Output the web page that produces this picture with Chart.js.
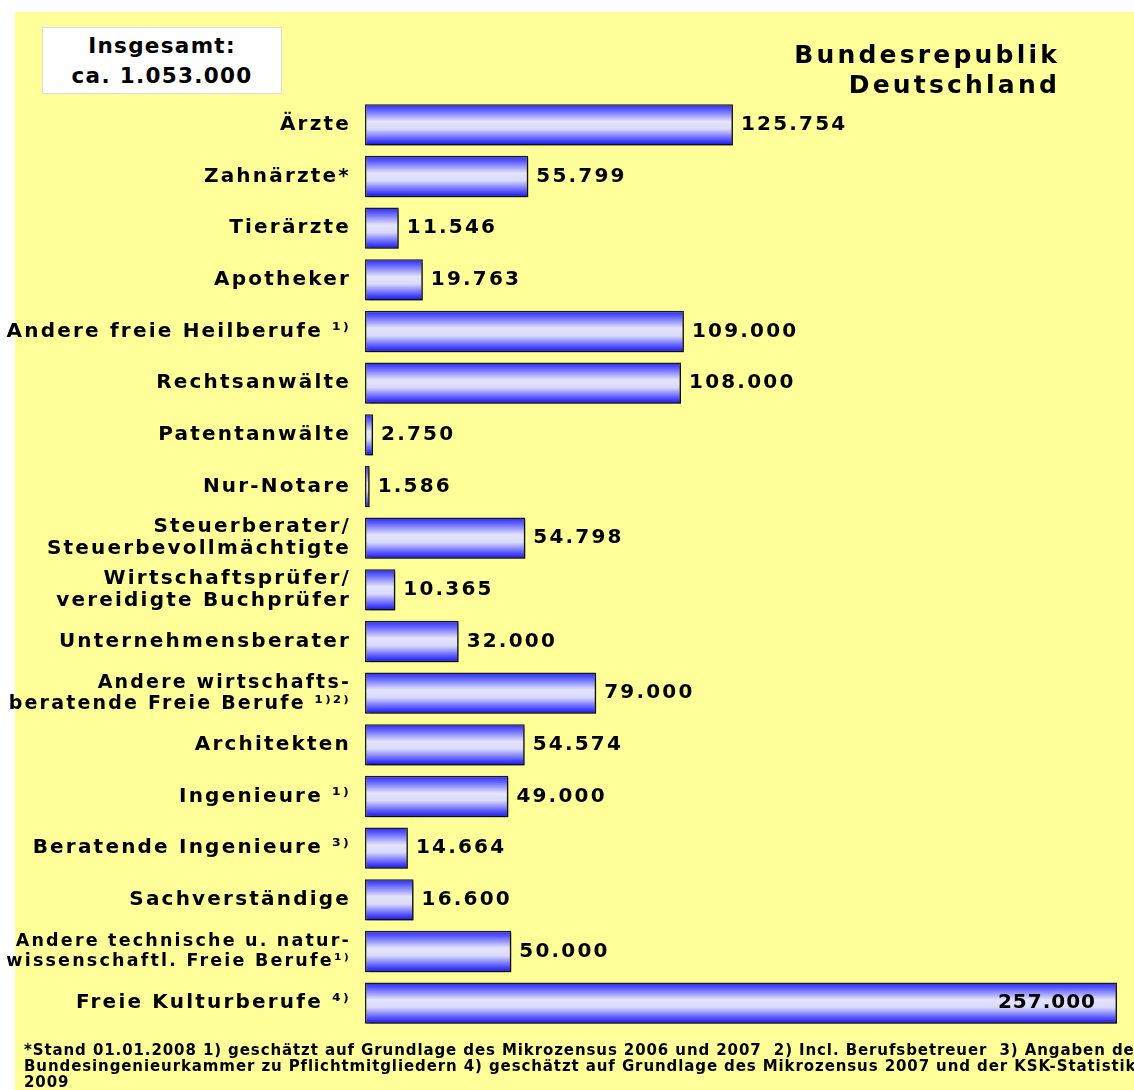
<!DOCTYPE html>
<html lang="de">
<head>
<meta charset="utf-8">
<title>Freie Berufe</title>
<script src="https://cdn.jsdelivr.net/npm/chart.js@4.4.1/dist/chart.umd.min.js"></script>
<style>
  html, body { margin: 0; padding: 0; background: #fff; }
  body { width: 1134px; height: 1090px; position: relative; overflow: hidden; font-family: "DejaVu Sans", sans-serif; }
  #panel { position: absolute; left: 15px; top: 12px; right: 0; bottom: 0; background: #ffff99; }
  #chart { position: absolute; left: 0; top: 0; }
  #total {
    position: absolute; left: 42px; top: 27px; width: 240px; height: 67px;
    background: #fff; border: 1px solid #dcdcdc;
    font-weight: bold; font-size: 21.5px; letter-spacing: 1.3px; text-align: center;
    line-height: 30px; padding-top: 3px; box-sizing: border-box;
  }
  #land {
    position: absolute; right: 74px; top: 40px; text-align: right;
    font-weight: bold; font-size: 25px; letter-spacing: 3.2px; line-height: 30px;
  }
  #notes {
    position: absolute; left: 24px; top: 1042px; right: 0; white-space: nowrap; overflow: hidden;
    font-weight: bold; font-size: 15px; line-height: 16px; letter-spacing: 0.9px;
  }
</style>
</head>
<body>
<div id="panel"></div>
<canvas id="chart" width="1134" height="1090"></canvas>
<div id="total">Insgesamt:<br>ca. 1.053.000</div>
<div id="land">Bundesrepublik<br>Deutschland</div>
<div id="notes">*Stand 01.01.2008 1) geschätzt auf Grundlage des Mikrozensus 2006 und 2007&nbsp; 2) Incl. Berufsbetreuer&nbsp; 3) Angaben der<br>Bundesingenieurkammer zu Pflichtmitgliedern 4) geschätzt auf Grundlage des Mikrozensus 2007 und der KSK-Statistik<br>2009</div>
<script>
// Berufsgruppen und Anzahl
var berufe = [
    'Ärzte',
    'Zahnärzte*',
    'Tierärzte',
    'Apotheker',
    'Andere freie Heilberufe ¹⁾',
    'Rechtsanwälte',
    'Patentanwälte',
    'Nur-Notare',
    ['Steuerberater/', 'Steuerbevollmächtigte'],
    ['Wirtschaftsprüfer/', 'vereidigte Buchprüfer'],
    'Unternehmensberater',
    ['Andere wirtschafts-', 'beratende Freie Berufe ¹⁾²⁾'],
    'Architekten',
    'Ingenieure ¹⁾',
    'Beratende Ingenieure ³⁾',
    'Sachverständige',
    ['Andere technische u. natur-', 'wissenschaftl. Freie Berufe¹⁾'],
    'Freie Kulturberufe ⁴⁾'
];
var anzahl = [125754, 55799, 11546, 19763, 109000, 108000, 2750, 1586, 54798,
              10365, 32000, 79000, 54574, 49000, 14664, 16600, 50000, 257000];
var xMax = 257000;

function fmt(v) {
    return String(v).replace(/\B(?=(\d{3})+(?!\d))/g, '.');
}

var barPct = 0.8;

function barFill(c) {
    var chart = c.chart;
    var area = chart.chartArea;
    if (!area) return '#6060ff';
    var y = chart.scales.y.getPixelForValue(c.dataIndex);
    var h = (area.bottom - area.top) / berufe.length * barPct / 2;
    var g = chart.ctx.createLinearGradient(0, y - h, 0, y + h);
    g.addColorStop(0, '#2424ff');
    g.addColorStop(0.15, '#6464ff');
    g.addColorStop(0.42, '#e4e4fb');
    g.addColorStop(0.6, '#dadafb');
    g.addColorStop(0.85, '#5858ff');
    g.addColorStop(1, '#1010f0');
    return g;
}

var barPlugin = {
    id: 'barDeko',
    beforeDraw: function (chart) {
        chart.ctx.letterSpacing = '2.2px';
    },
    beforeDatasetsDraw: function (chart) {
        var ctx = chart.ctx;
        ctx.save();
        ctx.shadowColor = 'rgba(0,0,0,0.5)';
        ctx.shadowOffsetX = 2;
        ctx.shadowOffsetY = 2;
        ctx.shadowBlur = 2;
    },
    afterDatasetsDraw: function (chart) {
        var ctx = chart.ctx;
        ctx.restore();
        ctx.save();
        ctx.fillStyle = '#000';
        ctx.textBaseline = 'middle';
        ctx.font = 'bold 20px "DejaVu Sans"';
        var meta = chart.getDatasetMeta(0);
        meta.data.forEach(function (bar, i) {
            var v = anzahl[i];
            if (v > 200000) {
                ctx.letterSpacing = '1px';
                ctx.textAlign = 'right';
                ctx.fillText(fmt(v), bar.x - 21, bar.y);
            } else {
                ctx.letterSpacing = '2.2px';
                ctx.textAlign = 'left';
                ctx.fillText(fmt(v), bar.x + 8, bar.y);
            }
        });
        ctx.restore();
    },
    afterDraw: function (chart) {
        chart.ctx.letterSpacing = '0px';
    }
};

var myChart = new Chart(document.getElementById('chart').getContext('2d'), {
    type: 'bar',
    data: {
        labels: berufe,
        datasets: [{
            data: anzahl,
            backgroundColor: barFill,
            borderColor: '#1a1a1a',
            borderWidth: 1.5,
            borderSkipped: false,
            barPercentage: barPct,
            categoryPercentage: 1
        }]
    },
    options: {
        indexAxis: 'y',
        responsive: false,
        animation: false,
        layout: { padding: { top: 99, bottom: 61, left: 0, right: 17 } },
        plugins: {
            legend: { display: false },
            tooltip: { enabled: false }
        },
        scales: {
            x: { display: false, min: 0, max: xMax },
            y: {
                grid: { display: false },
                border: { display: false },
                afterFit: function (scale) { scale.width = 365; },
                ticks: {
                    autoSkip: false,
                    padding: 6,
                    color: '#000',
                    font: function (c) {
                        var s = 20;
                        if (c.index === 11) s = 19;
                        if (c.index === 16) s = 17.5;
                        return { family: 'DejaVu Sans', weight: 'bold', size: s, lineHeight: 1.1 };
                    }
                }
            }
        }
    },
    plugins: [barPlugin]
});
</script>
</body>
</html>
